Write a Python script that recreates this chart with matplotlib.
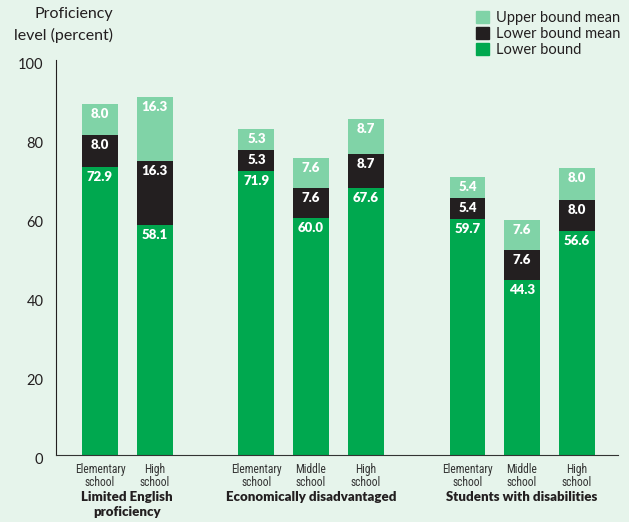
import matplotlib.pyplot as plt
from matplotlib import font_manager
from matplotlib.patches import Patch
from matplotlib.transforms import ScaledTranslation

# proficiency estimates by student group and school level
schools = ["Elementary\nschool", "High\nschool",
           "Elementary\nschool", "Middle\nschool", "High\nschool",
           "Elementary\nschool", "Middle\nschool", "High\nschool"]
groups = ["Limited English\nproficiency", "Economically disadvantaged", "Students with disabilities"]
group_sizes = [2, 3, 3]
lower_bound = [72.9, 58.1, 71.9, 60.0, 67.6, 59.7, 44.3, 56.6]
lower_mean = [8.0, 16.3, 5.3, 7.6, 8.7, 5.4, 7.6, 8.0]
upper_mean = [8.0, 16.3, 5.3, 7.6, 8.7, 5.4, 7.6, 8.0]
yticks = [0, 20, 40, 60, 80, 100]

BG = "#e6f4eb"
C_LOW = "#00a84f"
C_LMEAN = "#231f20"
C_UMEAN = "#80d3a7"
TXT = "#231f20"

installed = {f.name for f in font_manager.fontManager.ttflist}


def pick(*names):
    for n in names:
        if n in installed:
            return n
    return "DejaVu Sans"


MAIN = pick("Lato", "Open Sans", "Noto Sans")
NARROW = pick("Liberation Sans Narrow", "DejaVu Sans Condensed", "Roboto Condensed", "Roboto")
narrow_size = 8.3 if "Narrow" in NARROW or "Condensed" in NARROW else 7.2
plt.rcParams["font.family"] = [MAIN, "DejaVu Sans"]

# x positions: bars within a group one unit apart, wider gap between groups
GAP = 1.87
xs, centers = [], []
pos = 0.0
for n in group_sizes:
    grp = [pos + i for i in range(n)]
    xs += grp
    centers.append(sum(grp) / n)
    pos = grp[-1] + GAP

fig = plt.figure(figsize=(6.29, 5.22), dpi=100, facecolor=BG)
ax = fig.add_axes([0.089, 0.1284, 0.8935, 0.7567], facecolor=BG)

w = 0.66
bottoms2 = [a + b for a, b in zip(lower_bound, lower_mean)]
ax.bar(xs, lower_bound, w, color=C_LOW, zorder=2)
ax.bar(xs, lower_mean, w, bottom=lower_bound, color=C_LMEAN, zorder=2)
ax.bar(xs, upper_mean, w, bottom=bottoms2, color=C_UMEAN, zorder=2)

lab = dict(color="white", fontweight="heavy", fontsize=9.5, ha="center", va="center",
           textcoords="offset pixels", xytext=(0, -10), zorder=3)
for x, lb, lm, um in zip(xs, lower_bound, lower_mean, upper_mean):
    ax.annotate(f"{lb:.1f}", (x, lb), **lab)
    ax.annotate(f"{lm:.1f}", (x, lb + lm), **lab)
    ax.annotate(f"{um:.1f}", (x, lb + lm + um), **lab)

ax.set_xlim(-0.807, 9.50)
ax.set_ylim(0, 100)
ax.set_yticks(yticks)
ax.set_yticklabels([str(t) for t in yticks], fontsize=10.5, color=TXT)
ax.tick_params(axis="y", length=0, pad=9)
shift = ScaledTranslation(0, -4 / 100, fig.dpi_scale_trans)
for t in ax.get_yticklabels():
    t.set_transform(t.get_transform() + shift)

ax.set_xticks(xs)
ax.set_xticklabels(schools, fontsize=narrow_size, color="#333333", family=NARROW, linespacing=1.0)
ax.tick_params(axis="x", length=0, pad=6)

for s in ["top", "right"]:
    ax.spines[s].set_visible(False)
ax.spines["left"].set_color(TXT)
ax.spines["bottom"].set_color("#333333")

for c, g in zip(centers, groups):
    ax.annotate(g, (c, 0), xytext=(0, -36), textcoords="offset pixels",
                ha="center", va="top", fontsize=9.5, fontweight="heavy",
                color=TXT, linespacing=1.3, annotation_clip=False)

fig.text(113 / 629, 1 - 7 / 522, "Proficiency\nlevel (percent)", ha="right", va="top",
         fontsize=11.5, color=TXT, linespacing=1.6)

handles = [Patch(color=C_UMEAN, label="Upper bound mean"),
           Patch(color=C_LMEAN, label="Lower bound mean"),
           Patch(color=C_LOW, label="Lower bound")]
fig.legend(handles=handles, loc="upper left", bbox_to_anchor=(476 / 629, 1 - 11 / 522),
           frameon=False, fontsize=10.5, handlelength=0.9, handleheight=0.9,
           handletextpad=0.5, labelspacing=0.12, borderpad=0, borderaxespad=0,
           labelcolor=TXT)

fig.savefig("out.png", dpi=100, facecolor=BG)
